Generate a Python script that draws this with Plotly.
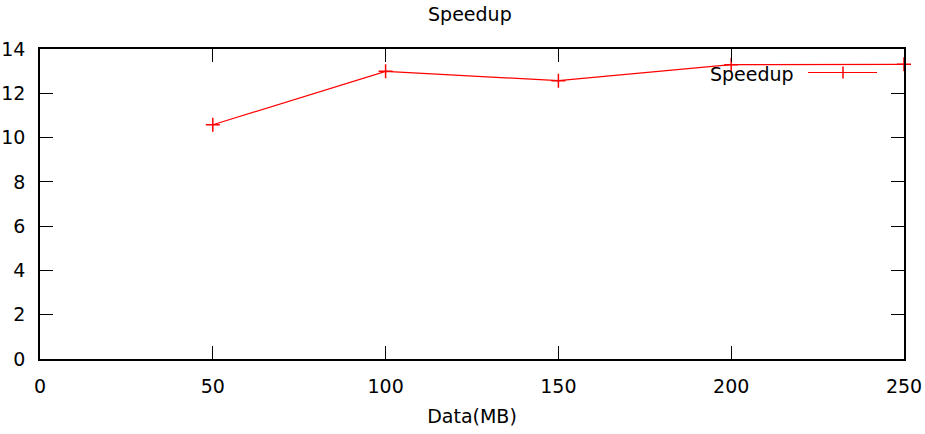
import plotly.graph_objects as go

data_mb = [50, 100, 150, 200, 250]
speedup = [10.58, 12.99, 12.57, 13.29, 13.31]
x_ticks = [0, 50, 100, 150, 200, 250]
y_ticks = [0, 2, 4, 6, 8, 10, 12, 14]

RED = "#ff0000"
FONT = "DejaVu Sans"
FS = 19

fig = go.Figure()
fig.add_trace(go.Scatter(
    x=data_mb, y=speedup, mode="lines+markers", name="Speedup",
    line=dict(color=RED, width=1.2),
    marker=dict(symbol="cross-thin", size=10, line=dict(color=RED, width=1.5)),
    cliponaxis=False, showlegend=False,
))

W, H = 925, 434
L, R, T, B = 40, 21, 49, 75
fig.update_layout(
    width=W, height=H,
    margin=dict(l=L, r=R, t=T, b=B, pad=0, autoexpand=False),
    paper_bgcolor="white", plot_bgcolor="white",
    font=dict(family=FONT, size=FS, color="black"),
    title=dict(text="Speedup", x=0.508, xanchor="center", y=1 - 14 / H,
               yanchor="middle", yref="container", font=dict(size=FS)),
    xaxis=dict(range=[0, 250], tickvals=x_ticks, ticktext=[str(v) for v in x_ticks],
               showgrid=False, zeroline=False, showline=True, linecolor="black",
               linewidth=1.5, mirror="ticks", ticks="inside", ticklen=13,
               tickcolor="black", tickwidth=1, ticklabelstandoff=9, automargin=False,
               title=dict(text="Data(MB)", standoff=14, font=dict(size=FS))),
    yaxis=dict(range=[0, 14], tickvals=y_ticks, ticktext=[str(v) for v in y_ticks],
               showgrid=False, zeroline=False, showline=True, linecolor="black",
               linewidth=1.5, mirror="ticks", ticks="inside", ticklen=13,
               tickcolor="black", tickwidth=1, ticklabelstandoff=9, automargin=False),
)

# gnuplot-style key: text then sample line with marker
fig.add_annotation(text="Speedup", x=(796 - L) / (W - L - R), y=(359 - 74) / (359 - 49),
                   xref="paper", yref="paper", xanchor="right", yanchor="middle",
                   showarrow=False, font=dict(size=FS))
kx0, kx1, ky = (808 - L) / (W - L - R), (877 - L) / (W - L - R), (359 - 72.5) / (359 - 49)
fig.add_shape(type="line", xref="paper", yref="paper", x0=kx0, x1=kx1, y0=ky, y1=ky,
              line=dict(color=RED, width=1.2))
kxm = (843 - L) / (W - L - R)
fig.add_shape(type="line", xref="paper", yref="paper", x0=kxm, x1=kxm,
              y0=ky - 6 / 310, y1=ky + 6 / 310, line=dict(color=RED, width=1.5))

fig.write_html("out.html")
